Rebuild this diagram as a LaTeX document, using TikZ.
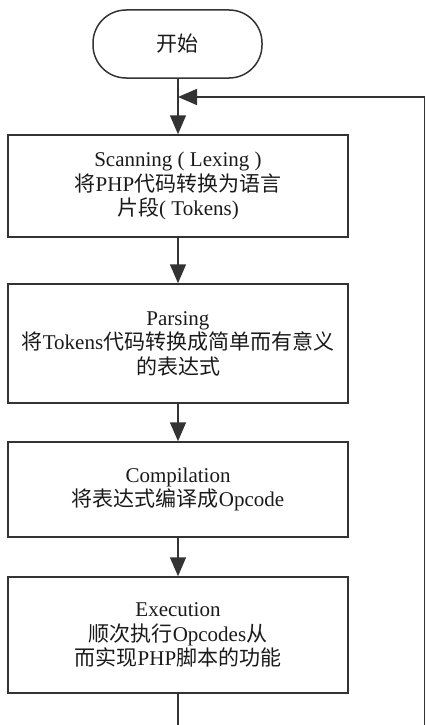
\documentclass[tikz,border=0pt]{standalone}
\usepackage{fontspec}
\setmainfont{Liberation Serif}
\newfontfamily\cjk{Noto Sans CJK SC}
\usetikzlibrary{arrows.meta}
\definecolor{ln}{HTML}{333333}
\definecolor{tx}{HTML}{1A1A1A}
\begin{document}
\begin{tikzpicture}[x=1pt,y=-1pt,
  every node/.style={text=tx,font=\fontsize{21}{24.5}\selectfont},
  proc/.style={draw=ln,line width=1.5pt,minimum width=340pt,inner sep=0pt,align=center},
  term/.style={draw=ln,line width=1.5pt,minimum width=169pt,minimum height=68pt,rounded corners=33pt,inner sep=0pt},
  conn/.style={draw=ln,line width=1.5pt},
  arr/.style={conn,-{Triangle[width=16pt,length=19pt]}}]
\useasboundingbox (0,0) rectangle (426,725);
\node[term] (start) at (177.5,44) {\cjk 开始};
\node[proc,minimum height=102pt] (scan) at (178,186)
  {Scanning ( Lexing )\\{\cjk 将}PHP{\cjk 代码转换为语言}\\{\cjk 片段}( Tokens)};
\node[proc,minimum height=119pt] (parse) at (178,343.5)
  {Parsing\\{\cjk 将}Tokens{\cjk 代码转换成简单而有意义}\\{\cjk 的表达式}};
\node[proc,minimum height=95pt] (comp) at (178,489.5)
  {Compilation\\{\cjk 将表达式编译成}Opcode};
\node[proc,minimum height=116pt] (exec) at (178,635)
  {Execution\\{\cjk 顺次执行}Opcodes{\cjk 从}\\{\cjk 而实现}PHP{\cjk 脚本的功能}};
\coordinate (merge) at (178,97);
\coordinate (corner) at (424.5,97);
\coordinate (rbot) at (424.5,725);
\coordinate (bot) at (178,725);
\draw[arr] (start.south -| scan.north) -- (scan.north);
\draw[arr] (scan) -- (parse);
\draw[arr] (parse) -- (comp);
\draw[arr] (comp) -- (exec);
\draw[conn] (exec.south) -- (bot);
\draw[conn] (rbot) -- (corner);
\draw[arr] (corner) -- (merge);
\end{tikzpicture}
\end{document}
